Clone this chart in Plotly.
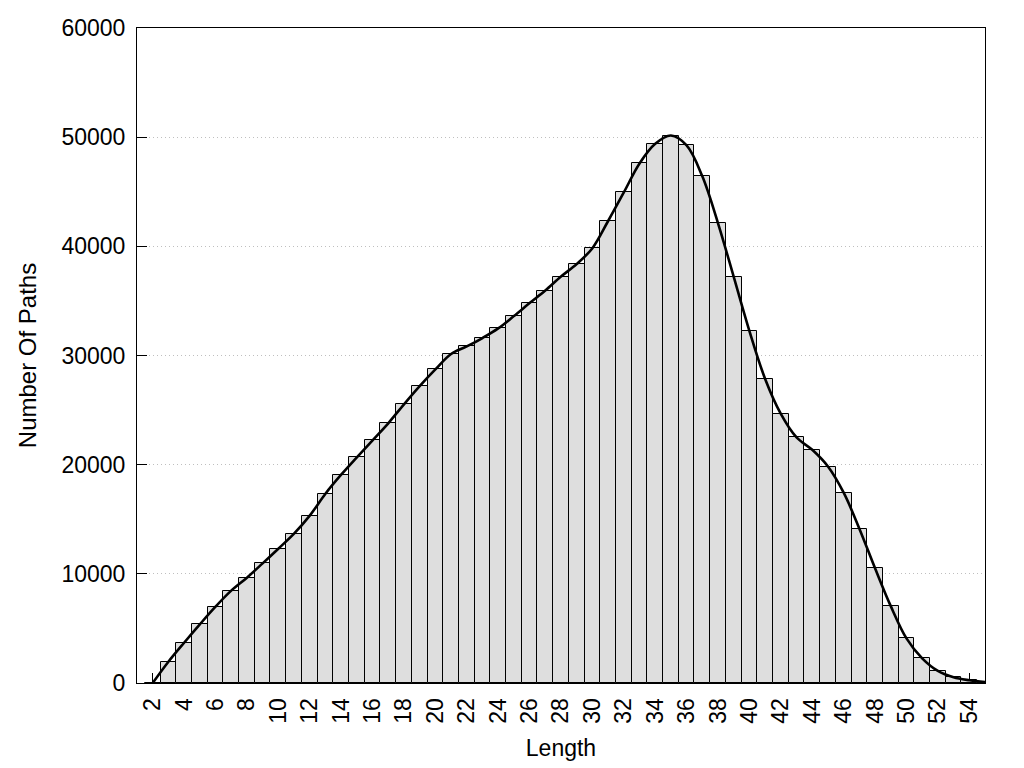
import plotly.graph_objects as go

lengths = list(range(2, 56))
paths = [0, 1950, 3690, 5370, 6990, 8460, 9650, 10960, 12300, 13680,
         15330, 17340, 19080, 20670, 22230, 23790, 25530, 27200, 28730, 30140,
         30830, 31600, 32480, 33610, 34800, 35950, 37230, 38380, 39830, 42320,
         44940, 47590, 49390, 50150, 49240, 46410, 42110, 37200, 32240, 27850,
         24650, 22490, 21360, 19830, 17430, 14140, 10510, 7040, 4085, 2255,
         1100, 520, 250, 80]
x_ticks = list(range(2, 55, 2))
y_ticks = [0, 10000, 20000, 30000, 40000, 50000, 60000]

FONT = "Liberation Sans, Arial, sans-serif"

fig = go.Figure()
fig.add_trace(go.Bar(
    x=lengths, y=paths, width=1,
    marker=dict(color="#dedede", line=dict(color="black", width=1)),
    showlegend=False, hoverinfo="x+y",
))
fig.add_trace(go.Scatter(
    x=lengths, y=paths, mode="lines",
    line=dict(color="black", width=2.6, shape="spline", smoothing=1.0),
    showlegend=False,
))

fig.update_layout(
    width=1024, height=768,
    margin=dict(l=129, r=47, t=20, b=93, autoexpand=False),
    paper_bgcolor="white", plot_bgcolor="white",
    font=dict(family=FONT, size=23, color="black"),
    bargap=0,
    xaxis=dict(
        range=[1, 55], tickvals=x_ticks, ticktext=[str(v) for v in x_ticks],
        tickangle=-90, ticks="inside", ticklen=10, tickcolor="black",
        showline=True, linecolor="black", linewidth=1, mirror=True,
        showgrid=False, zeroline=False, layer="below traces",
        title=dict(text="Length", standoff=17, font=dict(size=23)),
        ticklabelstandoff=5, automargin=False,
    ),
    yaxis=dict(
        range=[0, 60000], tickvals=y_ticks, ticktext=[str(v) for v in y_ticks],
        ticks="inside", ticklen=10, tickcolor="black",
        showline=True, linecolor="black", linewidth=1, mirror=True,
        showgrid=True, gridcolor="#bfbfbf", griddash="1px,3px", gridwidth=1,
        zeroline=False,
        title=dict(text="Number Of Paths", standoff=18, font=dict(size=24)),
        ticklabelstandoff=6, automargin=False,
    ),
)

fig.write_html("out.html")
